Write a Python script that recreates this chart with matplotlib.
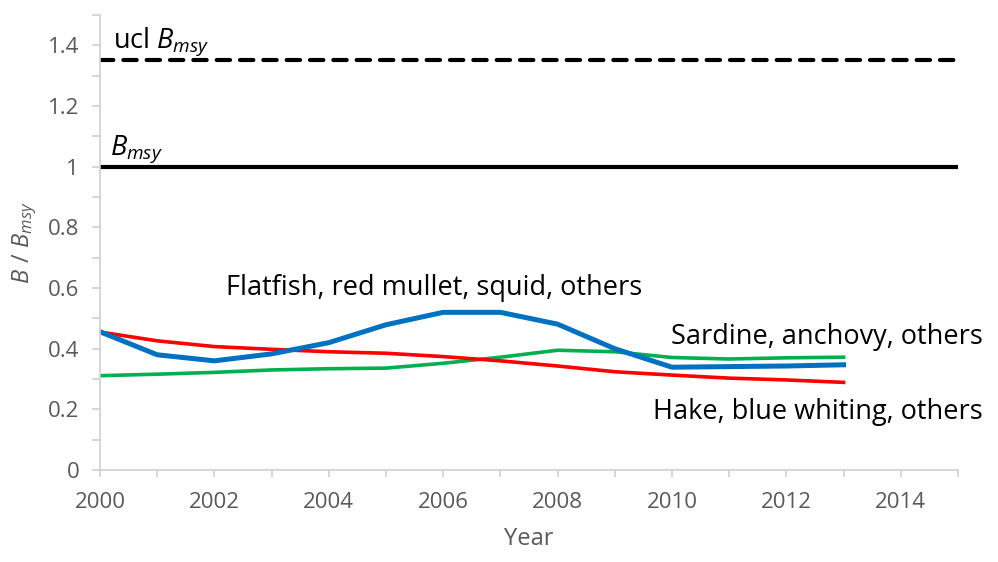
import numpy as np
import matplotlib
matplotlib.use("Agg")
import matplotlib.pyplot as plt
from matplotlib.ticker import MultipleLocator, FixedLocator

plt.rcParams['font.family'] = ['Open Sans', 'DejaVu Sans']
plt.rcParams['mathtext.fontset'] = 'custom'
plt.rcParams['mathtext.rm'] = 'Open Sans'
plt.rcParams['mathtext.it'] = 'Open Sans:italic'

years = list(range(2000, 2014))
flatfish = [0.456, 0.38, 0.36, 0.383, 0.42, 0.479, 0.52, 0.52, 0.481, 0.40,
            0.339, 0.341, 0.343, 0.347]
hake = [0.455, 0.426, 0.407, 0.398, 0.39, 0.385, 0.374, 0.36, 0.343, 0.324,
        0.313, 0.303, 0.297, 0.289]
sardine = [0.311, 0.316, 0.322, 0.33, 0.334, 0.336, 0.352, 0.372, 0.395, 0.39,
           0.371, 0.366, 0.37, 0.372]

ref_years = [2000, 2015]
bmsy = [1.0, 1.0]
ucl_bmsy = [1.353, 1.353]

fig = plt.figure(figsize=(9.98, 5.62), dpi=100)
ax = fig.add_axes([0.1002, 0.1637, 0.8597, 0.8093])

ax.plot(ref_years, ucl_bmsy, color='black', lw=3, ls=(0, (3.2, 2.4)),
        dash_capstyle='round', solid_capstyle='butt')
ax.plot(ref_years, bmsy, color='black', lw=3, solid_capstyle='butt')

ax.plot(years, sardine, color='#00b050', lw=2.6, solid_joinstyle='round')
ax.plot(years, hake, color='#ff0000', lw=2.6, solid_joinstyle='round')
ax.plot(years, flatfish, color='#0070c0', lw=3.6, solid_joinstyle='round')

ax.set_xlim(2000, 2015)
ax.set_ylim(0, 1.5)

ax.xaxis.set_major_locator(MultipleLocator(2))
ax.xaxis.set_minor_locator(MultipleLocator(1))
ax.yaxis.set_major_locator(FixedLocator([0, 0.2, 0.4, 0.6, 0.8, 1.0, 1.2, 1.4]))
ax.yaxis.set_minor_locator(MultipleLocator(0.1))
ax.set_yticklabels(['0', '0.2', '0.4', '0.6', '0.8', '1', '1.2', '1.4'])

grey = '#595959'
for s in ['top', 'right']:
    ax.spines[s].set_visible(False)
for s in ['left', 'bottom']:
    ax.spines[s].set_color('#d0d0d0')
    ax.spines[s].set_linewidth(1.2)
ax.tick_params(axis='both', which='both', color='#d0d0d0', width=1.2,
               direction='out', labelcolor=grey, labelsize=16)
ax.tick_params(axis='x', which='both', length=5, pad=11)
ax.tick_params(axis='y', which='both', length=6, pad=9)

ax.set_xlabel('Year', color=grey, fontsize=17, labelpad=10)
ax.set_ylabel(r'$B\ /\ B_{msy}$', color=grey, fontsize=17, labelpad=6)

fs = 19.5
ax.text(2000.22, 1.36, r'ucl $B_{msy}$', fontsize=fs, ha='left', va='bottom')
ax.text(2000.18, 1.005, r'$B_{msy}$', fontsize=fs, ha='left', va='bottom')
ax.text(2002.2, 0.60, 'Flatfish, red mullet, squid, others', fontsize=fs,
        ha='left', va='center')
ax.text(2015.44, 0.439, 'Sardine, anchovy, others', fontsize=fs,
        ha='right', va='center', clip_on=False)
ax.text(2015.44, 0.191, 'Hake, blue whiting, others', fontsize=fs,
        ha='right', va='center', clip_on=False)

fig.savefig('out.png', dpi=100)
